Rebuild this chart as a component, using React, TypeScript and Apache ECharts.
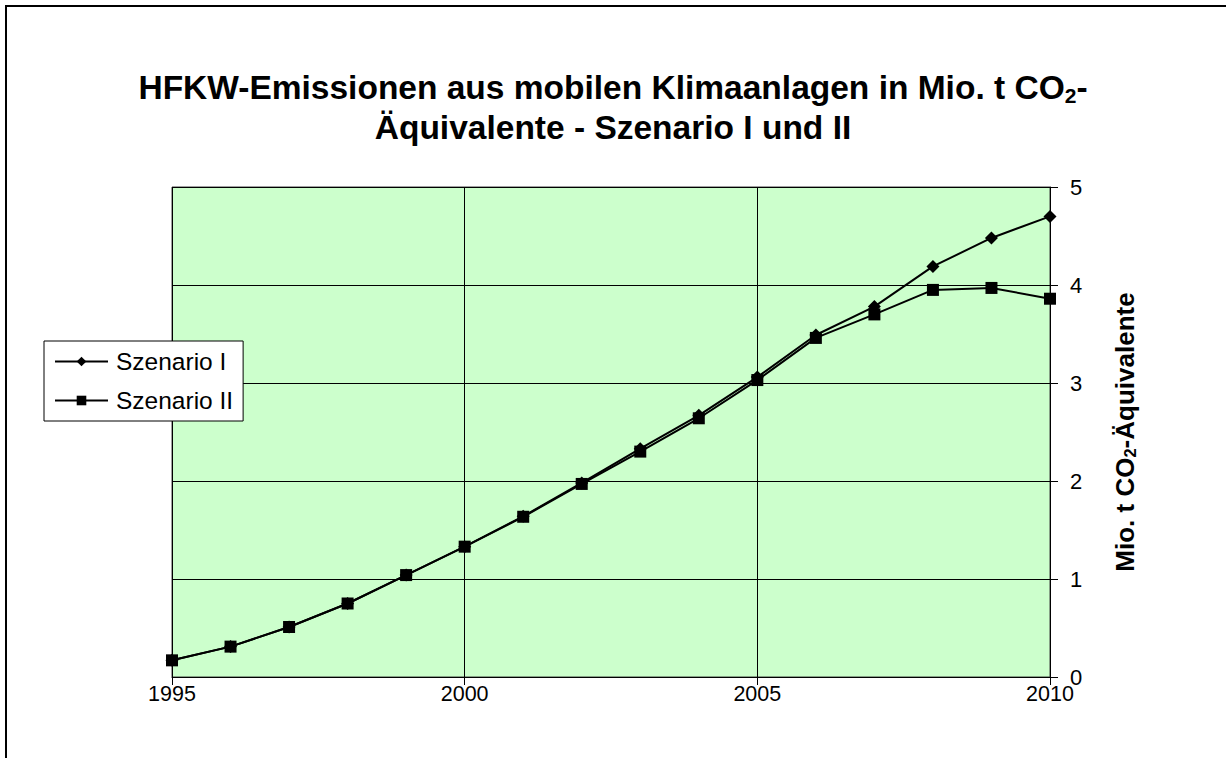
import React, { useEffect, useRef } from "react";
import * as echarts from "echarts";

const years = [1995, 1996, 1997, 1998, 1999, 2000, 2001, 2002, 2003, 2004, 2005, 2006, 2007, 2008, 2009, 2010];
const szenarioI = [0.17, 0.31, 0.51, 0.75, 1.04, 1.33, 1.64, 1.98, 2.33, 2.67, 3.06, 3.49, 3.78, 4.19, 4.48, 4.70];
const szenarioII = [0.17, 0.31, 0.51, 0.75, 1.04, 1.33, 1.635, 1.97, 2.30, 2.64, 3.03, 3.46, 3.70, 3.95, 3.97, 3.86];
const seriesNames = ["Szenario I", "Szenario II"];

const FONT = "'Liberation Sans', Arial, sans-serif";

export default function App() {
  const ref = useRef<HTMLDivElement>(null);
  useEffect(() => {
    document.body.style.margin = "0";
    if (!ref.current) return;
    const chart = echarts.init(ref.current, null, { renderer: "svg" });
    const pair = (vals: number[]) => years.map((y, i) => [y, vals[i]]);
    chart.setOption({
      animation: false,
      backgroundColor: "#ffffff",
      textStyle: { fontFamily: FONT },
      title: {
        text: "{b|HFKW-Emissionen aus mobilen Klimaanlagen in Mio. t CO}{s|2}{b|-}\n{b|Äquivalente - Szenario I und II}",
        left: "center",
        top: 62,
        textStyle: {
          rich: {
            b: { fontFamily: FONT, fontSize: 33.5, fontWeight: "bold", color: "#000", lineHeight: 40 },
            s: { fontFamily: FONT, fontSize: 21, fontWeight: "bold", color: "#000", lineHeight: 40, padding: [16, 0, 0, 0] },
          },
        },
      },
      graphic: [
        {
          type: "rect",
          shape: { x: 6, y: 6, width: 1260, height: 800 },
          style: { fill: "none", stroke: "#000", lineWidth: 2 },
          silent: true,
        },
      ],
      legend: {
        orient: "vertical",
        left: 44,
        top: 341,
        backgroundColor: "#fff",
        borderColor: "#000",
        borderWidth: 1,
        padding: [8, 10, 8, 10],
        itemGap: 14,
        itemWidth: 53,
        itemHeight: 12,
        textStyle: { fontFamily: FONT, fontSize: 24.5, color: "#000", padding: [0, 0, 0, 3] },
        data: seriesNames,
      },
      grid: {
        left: 172,
        right: 176,
        top: 187,
        bottom: 81,
        show: true,
        backgroundColor: "#ccffcc",
        borderColor: "#404040",
        borderWidth: 1,
      },
      xAxis: {
        type: "value",
        min: 1995,
        max: 2010,
        interval: 5,
        axisLine: { show: true, lineStyle: { color: "#000", width: 1 } },
        axisTick: { show: true, length: 8, lineStyle: { color: "#000" } },
        axisLabel: { fontFamily: FONT, fontSize: 21.5, color: "#000", margin: 6, formatter: (v: number) => String(v) },
        splitLine: { show: true, lineStyle: { color: "#000", width: 1 } },
      },
      yAxis: {
        type: "value",
        position: "right",
        min: 0,
        max: 5,
        interval: 1,
        name: "{a|Mio. t CO}{s|2}{a|-Äquivalente}",
        nameLocation: "middle",
        nameRotate: 90,
        nameGap: 61,
        nameTextStyle: {
          rich: {
            a: { fontFamily: FONT, fontSize: 26, fontWeight: "bold", color: "#000" },
            s: { fontFamily: FONT, fontSize: 16.5, fontWeight: "bold", color: "#000", padding: [10, 0, 0, 0] },
          },
        },
        axisLine: { show: true, lineStyle: { color: "#000", width: 1 } },
        axisTick: { show: true, length: 8, lineStyle: { color: "#000" } },
        axisLabel: { fontFamily: FONT, fontSize: 22, color: "#000", margin: 20 },
        splitLine: { show: true, lineStyle: { color: "#000", width: 1 } },
      },
      series: [
        {
          name: seriesNames[0],
          type: "line",
          data: pair(szenarioI),
          symbol: "diamond",
          symbolSize: 13,
          lineStyle: { color: "#000", width: 2 },
          itemStyle: { color: "#000" },
          z: 3,
        },
        {
          name: seriesNames[1],
          type: "line",
          data: pair(szenarioII),
          symbol: "rect",
          symbolSize: 12,
          lineStyle: { color: "#000", width: 2 },
          itemStyle: { color: "#000" },
          z: 4,
        },
      ],
    });
    return () => chart.dispose();
  }, []);
  return <div ref={ref} style={{ width: 1226, height: 758 }} />;
}
